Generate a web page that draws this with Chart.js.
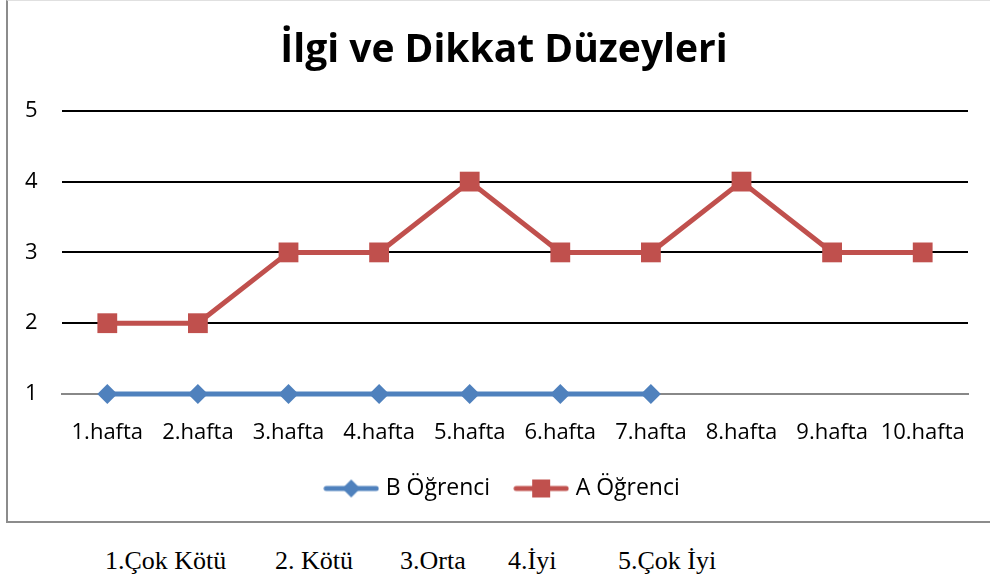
<!DOCTYPE html>
<html>
<head>
<meta charset="utf-8">
<script src="https://cdn.jsdelivr.net/npm/chart.js@4"></script>
<style>
  body { margin: 0; background: #fff; width: 990px; height: 583px; position: relative; overflow: hidden; }
  #wrap { position: absolute; left: 12px; top: 0px; width: 978px; height: 522px; }
  #wrap canvas { display: block; }
  #frame { position: absolute; left: 6px; top: 0px; width: 1000px; height: 523px; box-sizing: border-box;
           border: 2px solid #8c8c8c; border-top: 1px solid #e0e0e0; pointer-events: none; }
  .note { position: absolute; top: 548px; font-family: "Liberation Serif", "Times New Roman", serif;
          font-size: 26px; line-height: 26px; color: #000; white-space: pre; }
</style>
</head>
<body>
<div id="wrap"><canvas id="chart"></canvas></div>
<div id="frame"></div>
<div class="note" style="left:105px">1.Çok Kötü</div>
<div class="note" style="left:275px">2. Kötü</div>
<div class="note" style="left:400px">3.Orta</div>
<div class="note" style="left:508px">4.İyi</div>
<div class="note" style="left:618px">5.Çok İyi</div>
<script>
// Chart data
const weeks = ['1.hafta', '2.hafta', '3.hafta', '4.hafta', '5.hafta', '6.hafta', '7.hafta', '8.hafta', '9.hafta', '10.hafta'];
const studentB = [1, 1, 1, 1, 1, 1, 1, null, null, null];
const studentA = [2, 2, 3, 3, 4, 3, 3, 4, 3, 3];
const yTicks = [1, 2, 3, 4, 5];

const blue = '#4f81bd';
const red = '#c0504d';
const font = '"Open Sans", "Noto Sans", sans-serif';

// Legend icon: line with marker in the middle
function legendIcon(color, style) {
  const c = document.createElement('canvas');
  c.width = 56; c.height = 20;
  const g = c.getContext('2d');
  g.strokeStyle = color;
  g.lineWidth = 5;
  g.lineCap = 'round';
  g.beginPath(); g.moveTo(3, 10); g.lineTo(53, 10); g.stroke();
  g.fillStyle = color;
  if (style === 'rect') {
    g.fillRect(19, 1, 18, 18);
  } else {
    g.beginPath(); g.moveTo(28, 1); g.lineTo(37, 10); g.lineTo(28, 19); g.lineTo(19, 10); g.closePath(); g.fill();
  }
  return c;
}

const ctx = document.getElementById('chart').getContext('2d');
new Chart(ctx, {
  type: 'line',
  data: {
    labels: weeks,
    datasets: [
      {
        label: 'B Öğrenci',
        data: studentB,
        borderColor: blue,
        backgroundColor: blue,
        borderWidth: 5,
        pointStyle: 'rectRot',
        pointRadius: 10,
        pointHoverRadius: 10,
        pointBorderWidth: 0,
        clip: false
      },
      {
        label: 'A Öğrenci',
        data: studentA,
        borderColor: red,
        backgroundColor: red,
        borderWidth: 5,
        pointStyle: 'rect',
        pointRadius: 14,
        pointHoverRadius: 14,
        pointBorderWidth: 0,
        clip: false
      }
    ]
  },
  options: {
    responsive: true,
    maintainAspectRatio: false,
    animation: false,
    layout: { padding: { left: 28, right: 22, top: 0, bottom: 12 } },
    plugins: {
      title: {
        display: true,
        text: 'İlgi ve Dikkat Düzeyleri',
        color: '#000',
        font: { family: font, size: 39, weight: 'bold' },
        padding: { top: 27, bottom: 37 }
      },
      legend: {
        position: 'bottom',
        labels: {
          color: '#000',
          font: { family: font, size: 23 },
          usePointStyle: true,
          pointStyleWidth: 46,
          padding: 28,
          generateLabels: chart => chart.data.datasets.map((ds, i) => ({
            text: ds.label,
            fontColor: '#000',
            pointStyle: legendIcon(ds.borderColor, i === 1 ? 'rect' : 'diamond'),
            datasetIndex: i,
            hidden: false,
            lineWidth: 0
          }))
        }
      },
      tooltip: { enabled: false }
    },
    scales: {
      x: {
        offset: true,
        grid: { display: false },
        border: { display: true, color: '#888', width: 2 },
        ticks: { color: '#000', font: { family: font, size: 22 }, maxRotation: 0, autoSkip: false, padding: 18 },
        afterFit: axis => { axis.height = 55; }
      },
      y: {
        min: yTicks[0],
        max: yTicks[yTicks.length - 1],
        afterBuildTicks: axis => { axis.ticks = yTicks.map(v => ({ value: v })); },
        grid: {
          color: c => c.tick && c.tick.value === 1 ? '#888' : '#000',
          lineWidth: 2,
          drawTicks: false
        },
        border: { display: false },
        ticks: { color: '#000', font: { family: font, size: 22 }, mirror: true, padding: -37 },
        afterFit: axis => { axis.width = 22; }
      }
    }
  }
});
</script>
</body>
</html>
